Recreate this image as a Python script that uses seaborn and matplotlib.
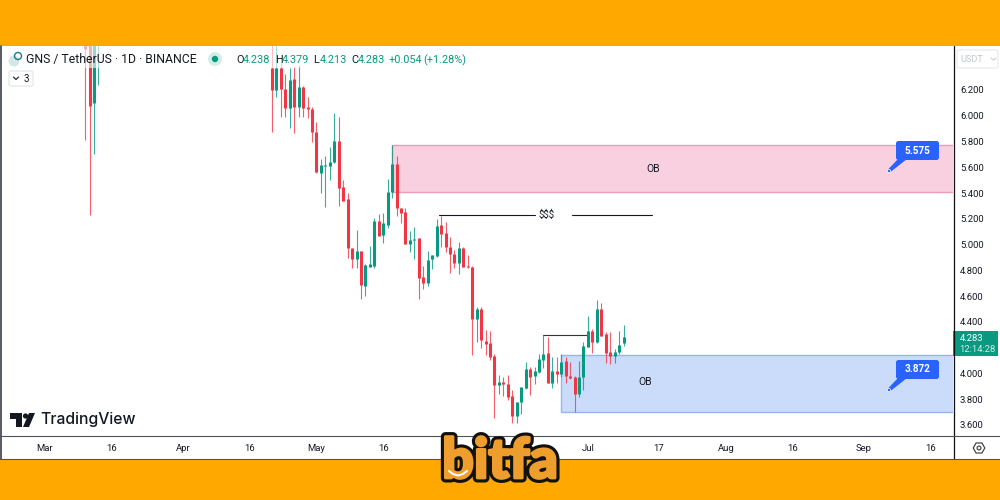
import matplotlib
matplotlib.use("Agg")
import matplotlib.pyplot as plt
import matplotlib.patheffects as pe
from matplotlib.patches import Rectangle, FancyBboxPatch, Polygon, Circle, RegularPolygon
import pandas as pd
import seaborn as sns

# candles, day 0 = 1 Mar. First four run off the top of the chart
days = [9, 10, 11, 12] + list(range(51, 131))
opens = [6.700, 6.700, 6.099, 6.600,
         6.370, 6.200, 6.370, 6.207, 6.060, 6.285, 6.068, 6.223, 6.068, 6.052,
         5.874, 5.556, 5.610, 5.610, 5.641, 5.804, 5.447, 5.354, 4.974, 4.888,
         4.950, 4.679, 4.826, 4.834, 5.183, 5.074, 5.152, 5.408, 5.625, 5.284,
         5.253, 5.005, 5.036, 5.051, 4.748, 4.702, 4.888, 4.911, 5.152, 5.090,
         4.981, 4.927, 4.857, 4.974, 4.834, 4.826, 4.423, 4.500, 4.252, 4.236,
         4.135, 3.910, 3.934, 3.918, 3.825, 3.670, 3.778, 3.887, 4.035, 3.980,
         4.011, 4.104, 4.159, 3.926, 4.019, 3.996, 4.097, 3.980, 3.972, 3.841,
         3.972, 4.205, 4.329, 4.244, 4.500, 4.306, 4.166, 4.135, 4.166, 4.238]
highs = [6.800, 6.800, 6.800, 6.800,
         6.600, 6.600, 6.417, 6.324, 6.370, 6.378, 6.394, 6.231, 6.145, 6.068,
         5.951, 5.664, 5.687, 5.757, 6.021, 5.990, 5.501, 5.400, 4.974, 5.113,
         4.950, 4.849, 4.989, 5.206, 5.237, 5.245, 5.509, 5.773, 5.687, 5.284,
         5.284, 5.105, 5.136, 5.051, 4.834, 4.950, 4.919, 5.199, 5.222, 5.175,
         5.059, 4.958, 5.020, 4.981, 4.919, 4.834, 4.516, 4.516, 4.337, 4.329,
         4.151, 3.988, 3.972, 3.988, 3.872, 3.778, 3.895, 4.089, 4.050, 4.050,
         4.151, 4.298, 4.283, 4.128, 4.128, 4.151, 4.128, 4.089, 3.980, 4.097,
         4.244, 4.446, 4.345, 4.570, 4.547, 4.322, 4.322, 4.189, 4.329, 4.379]
lows = [5.812, 5.230, 5.703, 6.238,
        5.874, 6.145, 5.990, 5.990, 5.905, 5.866, 5.990, 5.990, 5.982, 5.796,
        5.556, 5.400, 5.292, 5.501, 5.633, 5.299, 5.338, 4.896, 4.818, 4.818,
        4.578, 4.601, 4.826, 4.818, 5.129, 5.012, 5.129, 5.362, 5.222, 5.168,
        5.005, 4.942, 4.888, 4.578, 4.655, 4.679, 4.811, 4.904, 4.981, 4.942,
        4.780, 4.818, 4.772, 4.826, 4.818, 4.143, 4.244, 4.197, 4.143, 4.104,
        3.654, 3.841, 3.825, 3.794, 3.615, 3.615, 3.685, 3.879, 3.833, 3.918,
        4.003, 4.042, 3.926, 3.887, 3.926, 3.972, 3.926, 3.957, 3.701, 3.817,
        3.872, 4.205, 4.159, 4.236, 4.291, 4.081, 4.073, 4.081, 4.151, 4.213]
closes = [6.520, 6.078, 6.700, 6.700,
          6.200, 6.370, 6.207, 6.060, 6.277, 6.068, 6.223, 6.060, 6.052, 5.874,
          5.563, 5.618, 5.618, 5.641, 5.804, 5.439, 5.338, 4.974, 4.888, 4.950,
          4.686, 4.842, 4.849, 5.183, 5.067, 5.168, 5.408, 5.625, 5.284, 5.245,
          5.005, 5.036, 5.043, 4.741, 4.702, 4.880, 4.919, 5.144, 5.082, 4.981,
          4.927, 4.857, 4.974, 4.826, 4.826, 4.423, 4.500, 4.260, 4.229, 4.128,
          3.910, 3.934, 3.918, 3.817, 3.670, 3.778, 3.895, 4.035, 3.972, 4.019,
          4.112, 4.151, 3.926, 4.019, 3.996, 4.089, 3.980, 3.965, 3.841, 3.972,
          4.213, 4.329, 4.244, 4.500, 4.291, 4.159, 4.135, 4.166, 4.221, 4.283]

# axis labels (the mid June label sits behind the logo in the picture)
price_ticks = [3.6, 3.8, 4.0, 4.4, 4.6, 4.8, 5.0, 5.2, 5.4, 5.6, 5.8, 6.0, 6.2]
date_ticks = [0, 15, 31, 46, 61, 76, 92, 122, 138, 153, 168, 184, 199]
date_labels = ["Mar", "16", "Apr", "16", "May", "16", "Jun",
               "Jul", "17", "Aug", "16", "Sep", "16"]

# order blocks and liquidity lines (start day, low, high)
red_zone = (78, 5.408, 5.773)
blue_zone = (116, 3.701, 4.143)
liq_high = 5.230
liq_low = 4.298

RED = "#F23645"
GREEN = "#089981"
INK = "#131722"
ORANGE = "#FFA800"
BLUE = "#2962FF"

sns.set_theme(style="white")
plt.rcParams['font.family'] = ['Roboto', 'DejaVu Sans']

wick_rows = []
body_rows = []
for d, o, h, l, c in zip(days, opens, highs, lows, closes):
    side = "up" if c >= o else "down"
    wick_rows += [(d, l, side), (d, h, side)]
    body_rows += [(d, min(o, c), side), (d, max(o, c), side)]
wicks = pd.DataFrame(wick_rows, columns=["day", "price", "side"])
bodies = pd.DataFrame(body_rows, columns=["day", "price", "side"])
colors = {"up": GREEN, "down": RED}

fig = plt.figure(figsize=(10, 5), dpi=100)
fig.patch.set_facecolor("white")
ax = fig.add_axes([0.001, 64 / 500, 0.952, 390 / 500])

# zones under the candles
for (start, low, high), face, edge in [(red_zone, "#F9D0DF", "#E99DBB"),
                                       (blue_zone, "#CADCF9", "#94B6F2")]:
    ax.add_patch(Rectangle((start, low), 300, high - low, facecolor=face,
                           edgecolor=edge, linewidth=1, zorder=1))

sns.lineplot(data=wicks, x="day", y="price", hue="side", units="day", estimator=None,
             palette=colors, linewidth=0.8, alpha=0.8, sort=False, legend=False,
             solid_capstyle="butt", ax=ax, zorder=3)
sns.lineplot(data=bodies, x="day", y="price", hue="side", units="day", estimator=None,
             palette=colors, linewidth=2.2, sort=False, legend=False,
             solid_capstyle="butt", ax=ax, zorder=4)

ax.plot([88.5, 110], [liq_high, liq_high], color=INK, lw=0.8, zorder=2)
ax.plot([118.5, 136.5], [liq_high, liq_high], color=INK, lw=0.8, zorder=2)
ax.plot([111.9, 122.2], [liq_low, liq_low], color="#333333", lw=0.8, zorder=2)
ax.text(112.8, liq_high, "$$$", ha="center", va="center", fontsize=7, color=INK, zorder=5)
ax.text(136.7, 5.585, "OB", ha="center", va="center", fontsize=7.5, color=INK, zorder=5)
ax.text(134.8, 3.936, "OB", ha="center", va="center", fontsize=7.5, color=INK, zorder=5)

ax.set_xlim((1 - 45) / 4.45, (953 - 45) / 4.45)
ax.set_ylim(6.898 - 0.00776 * 436, 6.898 - 0.00776 * 46)
ax.set_xlabel("")
ax.set_ylabel("")
ax.yaxis.tick_right()
ax.set_yticks(price_ticks, [f"{p:.3f}" for p in price_ticks])
ax.set_xticks(date_ticks, date_labels)
ax.tick_params(axis="y", length=0, pad=5, labelsize=6.8, labelcolor=INK)
ax.tick_params(axis="x", length=0, pad=5.5, labelsize=6.8, labelcolor=INK)
for s in ax.spines.values():
    s.set_visible(False)

# page furniture on a pixel layer
ov = fig.add_axes([0, 0, 1, 1], zorder=10)
ov.set_xlim(0, 1000)
ov.set_ylim(500, 0)
ov.axis("off")
ov.add_patch(Rectangle((0, 0), 1000, 46, color=ORANGE, lw=0))
ov.add_patch(Rectangle((0, 459), 1000, 41, color=ORANGE, lw=0))
ov.add_patch(Rectangle((0, 46), 470, 22, facecolor="white", alpha=0.6, lw=0))
ov.plot([0.5, 0.5], [46, 459], color="#3A3E4A", lw=1.2)
ov.plot([953.5, 953.5], [46, 459], color="#111111", lw=0.9)
ov.plot([0, 1000], [436, 436], color="#50535E", lw=0.8)
ov.plot([0, 1000], [459, 459], color="#50535E", lw=0.8)

# legend row
ov.add_patch(Circle((14, 61), 5.5, facecolor="#D5E6E6", edgecolor="none"))
ov.add_patch(Circle((18, 56), 3.5, facecolor="none", edgecolor="#1F7A8C", lw=1))
ov.text(25.5, 59.5, "GNS / TetherUS · 1D · BINANCE", fontsize=8.8, color=INK, va="center")
ov.add_patch(Circle((215, 59), 7, facecolor="#D3EEEA", edgecolor="none"))
ov.add_patch(Circle((215, 59), 3.2, facecolor=GREEN, edgecolor="none"))
for x, label in [(236, "O"), (275, "H"), (313, "L"), (351, "C")]:
    ov.text(x, 60, label, fontsize=7.8, color=INK, va="center")
for x, label in [(243, "4.238"), (282, "4.379"), (319.5, "4.213"), (357.5, "4.283"),
                 (389, "+0.054"), (423, "(+1.28%)")]:
    ov.text(x, 60, label, fontsize=7.8, color=GREEN, va="center")

# collapse button
ov.add_patch(FancyBboxPatch((9, 71), 24, 15, boxstyle="round,pad=0,rounding_size=2",
                            facecolor="white", edgecolor="#E0E3EB", lw=0.8))
ov.plot([13.5, 16, 18.5], [77, 79.5, 77], color=INK, lw=0.8)
ov.text(26.5, 78.5, "3", fontsize=7, color=INK, ha="center", va="center")

# price axis extras
ov.add_patch(FancyBboxPatch((957, 50), 41, 18, boxstyle="round,pad=0,rounding_size=2",
                            facecolor="white", edgecolor="#E6E8EE", lw=0.8))
ov.text(960, 60, "USDT", fontsize=6.6, color="#C4C7CF", va="center")
ov.plot([991, 993.5, 996], [58, 60, 58], color="#C4C7CF", lw=0.7)
ov.add_patch(Rectangle((953, 331), 45, 25, color=GREEN, lw=0))
ov.text(959.5, 338.5, "4.283", fontsize=6.8, color="white", va="center")
ov.text(959.5, 349.5, "12:14:28", fontsize=6.8, color="#CFEDE8", va="center")
ov.add_patch(RegularPolygon((979, 448), 6, radius=5.8, orientation=0.52,
                            facecolor="none", edgecolor="#333333", lw=0.8))
ov.add_patch(Circle((979, 448), 1.9, facecolor="none", edgecolor="#333333", lw=0.8))

# callouts
for top, label in [(141, "5.575"), (360, "3.872")]:
    ov.add_patch(FancyBboxPatch((896, top), 43, 19, boxstyle="round,pad=0,rounding_size=2.5",
                                facecolor=BLUE, edgecolor="none", zorder=6))
    ov.add_patch(Polygon([(898, top + 18), (907, top + 18), (890.5, top + 31), (888, top + 28.5)],
                         facecolor=BLUE, edgecolor="none", zorder=6))
    ov.add_patch(Circle((889, top + 30), 1.6, facecolor=BLUE, edgecolor="white", lw=0.5, zorder=7))
    ov.text(917.5, top + 9.5, label, fontsize=7.2, fontweight="bold", color="white",
            ha="center", va="center", zorder=8)

# TradingView mark
ov.add_patch(Polygon([(10, 413), (22, 413), (22, 427), (16, 427), (16, 418.5), (10, 418.5)],
                     facecolor=INK, edgecolor="none"))
ov.add_patch(Circle((25.5, 416), 2.6, facecolor=INK, edgecolor="none"))
ov.add_patch(Polygon([(29, 413), (35, 413), (29, 427), (23, 427)], facecolor=INK, edgecolor="none"))
ov.text(40, 419.5, "TradingView", fontsize=11.3, fontweight="medium", color=INK,
        family=["Inter", "DejaVu Sans"], va="center")

# site logo
ov.text(500, 462, "bitfa", fontsize=40, fontweight="black", color="#EE9E2C",
        family=["Lato", "DejaVu Sans"], ha="center", va="center", zorder=9,
        path_effects=[pe.withStroke(linewidth=6.5, foreground="#111111"),
                      pe.withStroke(linewidth=2, foreground="#EE9E2C")])
ov.plot([449, 453, 458, 463, 467], [471, 474, 475.5, 474, 471], color="white", lw=1.5,
        zorder=10, solid_capstyle="round")

fig.savefig("out.png", dpi=100)
